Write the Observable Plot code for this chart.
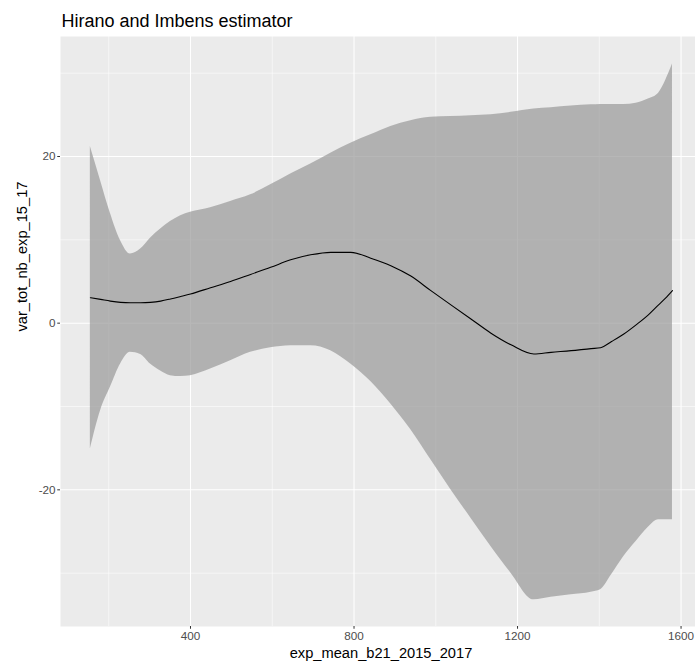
<!DOCTYPE html>
<html>
<head>
<meta charset="utf-8">
<script src="https://cdn.jsdelivr.net/npm/d3@7"></script>
<script src="https://cdn.jsdelivr.net/npm/@observablehq/plot@0.6"></script>
<style>
  html, body { margin: 0; padding: 0; background: white; overflow: hidden; }
</style>
</head>
<body>
<div id="chart"></div>
<script>
const titleText = "Hirano and Imbens estimator";
const xTitle = "exp_mean_b21_2015_2017";
const yTitle = "var_tot_nb_exp_15_17";

const xVals = [155, 180, 204, 229, 253, 278, 302, 327, 351, 376, 400, 449, 498, 547, 596, 645, 694, 743, 792, 841, 890, 939, 988, 1037, 1086, 1135, 1184, 1240, 1282, 1331, 1380, 1403, 1430, 1460, 1490, 1520, 1545, 1562, 1579];
const meanVals = [3.05, 2.85, 2.65, 2.5, 2.45, 2.45, 2.5, 2.65, 2.9, 3.2, 3.5, 4.25, 5.0, 5.85, 6.7, 7.6, 8.2, 8.5, 8.5, 7.8, 6.9, 5.65, 3.9, 2.2, 0.5, -1.2, -2.6, -3.7, -3.5, -3.3, -3.05, -2.95, -2.2, -1.3, -0.2, 1.0, 2.2, 3.0, 3.9];
const upperVals = [21.2, 17.1, 13.2, 9.9, 8.3, 8.9, 10.2, 11.3, 12.2, 12.9, 13.3, 13.85, 14.6, 15.4, 16.6, 17.9, 19.1, 20.4, 21.6, 22.6, 23.6, 24.3, 24.7, 24.8, 24.9, 25.0, 25.3, 25.7, 25.85, 26.05, 26.2, 26.25, 26.25, 26.25, 26.4, 26.9, 27.6, 29.1, 31.1];
const lowerVals = [-15.1, -10.5, -7.7, -4.9, -3.5, -3.75, -4.9, -5.75, -6.3, -6.4, -6.3, -5.5, -4.5, -3.5, -2.95, -2.7, -2.7, -3.3, -4.9, -7.0, -9.7, -12.8, -16.4, -20.0, -23.4, -26.8, -30.0, -33.2, -32.9, -32.6, -32.3, -32.0, -30.2, -28.0, -26.2, -24.5, -23.6, -23.6, -23.6];

const xMajor = [400, 800, 1200, 1600];
const xMinor = [200, 600, 1000, 1400];
const yMajor = [-20, 0, 20];
const yMinor = [-30, -10, 10, 30];

const data = xVals.map((x, i) => ({x, mean: meanVals[i], lo: lowerVals[i], hi: upperVals[i]}));

const font = "'Liberation Sans', Arial, sans-serif";
const plain = d => String(d);

const chart = Plot.plot({
  width: 701,
  height: 662,
  marginLeft: 60,
  marginRight: 0,
  marginTop: 36,
  marginBottom: 36,
  style: {fontFamily: font, fontSize: "11.7px", background: "white", maxWidth: "none", color: "#4D4D4D", overflow: "visible"},
  x: {domain: [82, 1650], axis: null},
  y: {domain: [-36.4, 34.4], axis: null},
  marks: [
    Plot.frame({fill: "#EBEBEB", stroke: null}),
    Plot.ruleX(xMinor, {stroke: "white", strokeWidth: 0.55}),
    Plot.ruleY(yMinor, {stroke: "white", strokeWidth: 0.55}),
    Plot.ruleX(xMajor, {stroke: "white", strokeWidth: 1.07}),
    Plot.ruleY(yMajor, {stroke: "white", strokeWidth: 1.07}),
    Plot.areaY(data, {x: "x", y1: "lo", y2: "hi", fill: "#999999", fillOpacity: 0.7, curve: "monotone-x"}),
    Plot.lineY(data, {x: "x", y: "mean", stroke: "black", strokeWidth: 1.1, curve: "monotone-x"}),
    Plot.axisX({ticks: xMajor, tickFormat: plain, tickSize: 2.75, tickPadding: 2.5, stroke: "#333333", fill: "#4D4D4D", fontSize: 11.7, label: null}),
    Plot.axisY({ticks: yMajor, tickFormat: plain, tickSize: 2.75, tickPadding: 2.2, stroke: "#333333", fill: "#4D4D4D", fontSize: 11.7, label: null}),
    Plot.text([titleText], {frameAnchor: "top-left", textAnchor: "start", lineAnchor: "middle", dx: 1, dy: -15, fontSize: 18, fill: "black"}),
    Plot.text([xTitle], {frameAnchor: "bottom", lineAnchor: "middle", dy: 27, fontSize: 14.67, fill: "black"}),
    Plot.text([yTitle], {frameAnchor: "left", rotate: -90, lineAnchor: "middle", dx: -38, fontSize: 14.67, fill: "black"})
  ]
});
document.getElementById("chart").appendChild(chart);
</script>
</body>
</html>
